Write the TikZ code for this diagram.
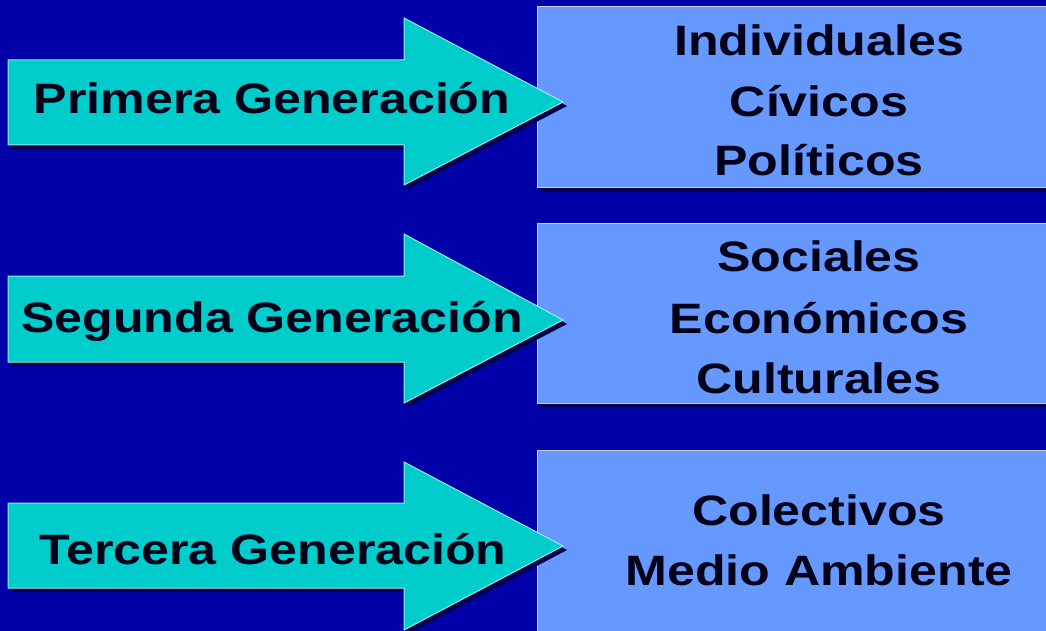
\documentclass[tikz,border=0pt]{standalone}
\usepackage{fontspec}
\setmainfont{Liberation Sans}
\definecolor{bgblue}{RGB}{0,0,168}
\definecolor{arrcyan}{RGB}{0,204,204}
\definecolor{arredge}{RGB}{150,235,240}
\definecolor{boxblue}{RGB}{102,153,255}
\definecolor{boxedge}{RGB}{200,210,225}
\definecolor{shade}{RGB}{0,0,70}
\definecolor{ink}{RGB}{0,0,25}
\tikzset{
  arrowshape/.style={fill=arrcyan, draw=arredge, line width=1pt, line join=miter},
  arrowshadow/.style={fill=shade},
  boxshape/.style={fill=boxblue, draw=boxedge, line width=1pt},
  boxshadow/.style={fill=shade},
  lbl/.style={anchor=base, inner sep=0pt, text=ink, xscale=1.18, transform shape, font=\bfseries\fontsize{42.5}{48}\selectfont}
}
\begin{document}
\begin{tikzpicture}[x=1pt,y=-1pt]
\useasboundingbox (0,0) rectangle (1046,631);
\clip (0,0) rectangle (1046,631);
\fill[bgblue] (0,0) rectangle (1046,631);
% boxes
\foreach \bt/\bb in {7/188, 223/403, 450/640}{
  \fill[boxshadow] (537+3,\bt+4) rectangle (1052,\bb+4);
  \filldraw[boxshape] (537,\bt) rectangle (1052,\bb);
}
% arrows: shaft top/bottom, head top/bottom, tip y
\foreach \st/\sb/\ht/\hb/\ty in {60/145/18/185/102, 276/362/234/403/320, 503/588/462/630/546}{
  \fill[arrowshadow] (8+4,\st+4) -- (404+4,\st+4) -- (404+4,\ht+4) -- (563+4,\ty+4) -- (404+4,\hb+4) -- (404+4,\sb+4) -- (8+4,\sb+4) -- cycle;
  \filldraw[arrowshape] (8,\st) -- (404,\st) -- (404,\ht) -- (563,\ty) -- (404,\hb) -- (404,\sb) -- (8,\sb) -- cycle;
}
\begin{scope}[shift={(272,114)}]\node[lbl] (g1) at (0,0) {Primera Generación};\end{scope}
\begin{scope}[shift={(272,332)}]\node[lbl] (g2) at (0,0) {Segunda Generación};\end{scope}
\begin{scope}[shift={(273,564)}]\node[lbl] (g3) at (0,0) {Tercera Generación};\end{scope}
\begin{scope}[shift={(819,56)}]\node[lbl] (a1) at (0,0) {Individuales};\end{scope}
\begin{scope}[shift={(819,117)}]\node[lbl] (a2) at (0,0) {Cívicos};\end{scope}
\begin{scope}[shift={(819,176)}]\node[lbl] (a3) at (0,0) {Políticos};\end{scope}
\begin{scope}[shift={(819,271)}]\node[lbl] (b1) at (0,0) {Sociales};\end{scope}
\begin{scope}[shift={(819,333)}]\node[lbl] (b2) at (0,0) {Económicos};\end{scope}
\begin{scope}[shift={(819,393)}]\node[lbl] (b3) at (0,0) {Culturales};\end{scope}
\begin{scope}[shift={(819,525)}]\node[lbl] (c1) at (0,0) {Colectivos};\end{scope}
\begin{scope}[shift={(819,585)}]\node[lbl] (c2) at (0,0) {Medio Ambiente};\end{scope}
\end{tikzpicture}
\end{document}
